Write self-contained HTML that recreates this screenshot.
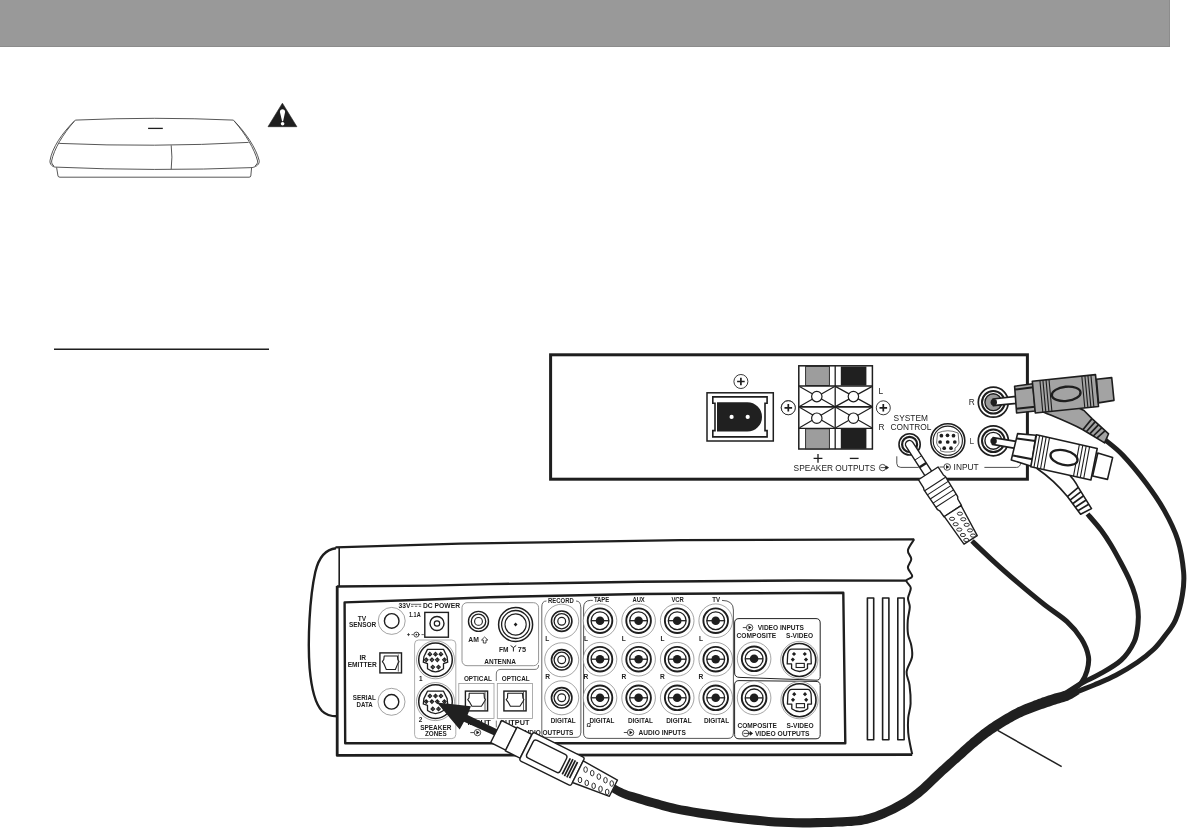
<!DOCTYPE html>
<html><head><meta charset="utf-8"><title>Connecting the system</title>
<style>
html,body{margin:0;padding:0;background:#fff;width:1187px;height:830px;overflow:hidden}
svg{display:block;font-family:"Liberation Sans",sans-serif;filter:grayscale(100%)}
</style></head><body>
<svg width="1187" height="830" viewBox="0 0 1187 830">
<!-- header bar -->
<rect x="0" y="0" width="1170" height="47" fill="#999"/>
<line x1="0" y1="46.5" x2="1170" y2="46.5" stroke="#8c8c8c" stroke-width="1"/>
<line x1="1169.5" y1="0" x2="1169.5" y2="47" stroke="#8c8c8c" stroke-width="1"/>

<!-- console -->
<g id="console" fill="none" stroke="#444" stroke-width="0.9">
  <path d="M75.3 120.1 Q155 116.5 233.4 120.1"/>
  <path d="M75.3 120.1 C62 133 52 148 50 160.6 C49.6 164 52 166.6 55.1 167.1"/>
  <path d="M74.3 121.3 C63 134 54 149 51.6 161 C51.5 163.5 52.5 165 54 165.8"/>
  <path d="M233.4 120.1 C246 133 256 148 259.2 160.6 C259.6 164 257 166.6 252.1 167.6"/>
  <path d="M234.4 121.3 C245.5 134 254.5 149 257.6 161 C257.7 163.5 256.5 165 255 165.8"/>
  <path d="M59.2 143.4 Q155 147.5 248.6 142.4"/>
  <path d="M55.1 167.1 Q155 171.5 252.1 167.6"/>
  <path d="M56.6 167.5 L58 176 Q58.3 177.2 60 177.2 L249 177.2 Q250.6 177.2 250.8 176 L251.6 167.6"/>
  <path d="M171.2 145.3 Q172.6 157 171.2 169.2"/>
  <line x1="148.1" y1="128.4" x2="162.8" y2="128.4" stroke="#201d1e" stroke-width="1.3"/>
</g>

<!-- warning triangle -->
<g id="warn">
  <path d="M282.4 103.2 L296.9 126.7 L268 126.7 Z" fill="#201d1e" stroke="#201d1e" stroke-width="0.6" stroke-linejoin="round"/>
  <path d="M279.9 112 C279.7 108.3 285.3 108.3 285.1 112 L283.1 121.3 L282.1 121.3 Z" fill="#fff"/>
  <circle cx="282.6" cy="123.8" r="1.8" fill="#fff"/>
</g>

<!-- underline -->
<line x1="54" y1="349.3" x2="269" y2="349.3" stroke="#201d1e" stroke-width="1.6"/>

<!-- bass module panel -->
<rect x="550.6" y="354.8" width="476.8" height="124.4" fill="none" stroke="#201d1e" stroke-width="3"/>
<defs>
  <g id="pluscirc">
    <circle r="7" fill="#fff" stroke="#222" stroke-width="0.9"/>
    <path d="M-3.8 0 H3.8 M0 -3.8 V3.8" stroke="#201d1e" stroke-width="1.7"/>
  </g>
</defs>
<!-- power connector -->
<g id="power">
  <rect x="707" y="392.8" width="66.3" height="48.2" fill="#fff" stroke="#201d1e" stroke-width="1.5"/>
  <path d="M712.8 396.9 H767.1 V403.2 H765 V430.6 H767.1 V436.9 H712.8 V430.6 H715 V403.2 H712.8 Z" fill="#fff" stroke="#201d1e" stroke-width="1.6"/>
  <path d="M717 402.2 H747.3 A14.7 14.7 0 0 1 747.3 431.6 H717 Z" fill="#231f20"/>
  <circle cx="731.6" cy="416.9" r="2.1" fill="#fff"/>
  <circle cx="747.7" cy="416.9" r="2.1" fill="#fff"/>
  <use href="#pluscirc" x="740.9" y="381.5"/>
  <use href="#pluscirc" x="788.2" y="407.6"/>
</g>
<!-- speaker terminals -->
<g id="spk">
  <rect x="798.8" y="365.8" width="73.6" height="83.2" fill="#fff" stroke="#201d1e" stroke-width="1.5"/>
  <!-- top tabs -->
  <rect x="805.6" y="366.5" width="23.8" height="19" fill="#9d9d9d" stroke="#222" stroke-width="0.9"/>
  <rect x="840.8" y="366.5" width="25.6" height="19" fill="#231f20"/>
  <rect x="805.6" y="428.8" width="23.8" height="20" fill="#9d9d9d" stroke="#222" stroke-width="0.9"/>
  <rect x="840.8" y="428.8" width="25.6" height="20" fill="#231f20"/>
  <line x1="835.2" y1="365.8" x2="835.2" y2="449" stroke="#201d1e" stroke-width="1.3"/>
  <line x1="798.8" y1="386" x2="872.4" y2="386" stroke="#201d1e" stroke-width="1.4"/>
  <line x1="798.8" y1="428.4" x2="872.4" y2="428.4" stroke="#201d1e" stroke-width="1.4"/>
  <line x1="798.8" y1="406.8" x2="872.4" y2="406.8" stroke="#201d1e" stroke-width="1.8"/>
  <g stroke="#201d1e" stroke-width="1.2" fill="#fff">
    <path d="M799.5 386.6 L834.6 406.4 M834.6 386.6 L799.5 406.4 M799.5 407.2 L834.6 427.8 M834.6 407.2 L799.5 427.8"/>
    <path d="M835.8 386.6 L871.8 406.4 M871.8 386.6 L835.8 406.4 M835.8 407.2 L871.8 427.8 M871.8 407.2 L835.8 427.8"/>
    <circle cx="816.8" cy="396.6" r="5.2"/>
    <circle cx="853.4" cy="396.6" r="5.2"/>
    <circle cx="816.8" cy="418.2" r="5.2"/>
    <circle cx="853.4" cy="418.2" r="5.2"/>
  </g>
  <use href="#pluscirc" x="788.3" y="407.8"/>
  <use href="#pluscirc" x="883.3" y="407.8"/>
  <text x="878.6" y="393.5" font-size="8.3" fill="#222">L</text>
  <text x="878.6" y="430" font-size="8.3" fill="#222">R</text>
  <path d="M813.6 458.4 H822.4 M818 454 V462.8" stroke="#201d1e" stroke-width="1.3"/>
  <path d="M849.8 458.4 H858.6" stroke="#201d1e" stroke-width="1.3"/>
  <text x="793.6" y="471" font-size="8.35" fill="#222">SPEAKER OUTPUTS</text>
  <!-- output arrow icon -->
  <circle cx="882.6" cy="467.6" r="3.2" fill="#fff" stroke="#222" stroke-width="0.8"/>
  <path d="M880.5 467.6 H888 M886 466 L888.5 467.6 L886 469.2 Z" stroke="#222" stroke-width="0.8" fill="#222"/>
</g>
<!-- system control / input -->
<g id="sysctl">
  <text x="893.6" y="421.4" font-size="8.35" fill="#222">SYSTEM</text>
  <text x="890.6" y="430" font-size="8.35" fill="#222">CONTROL</text>
  <path d="M896.8 456.3 V463.5 Q896.8 467.4 900.8 467.4 H918.7" fill="none" stroke="#222" stroke-width="0.8"/>
  <circle cx="909.6" cy="444.4" r="10.6" fill="#fff" stroke="#201d1e" stroke-width="1.6"/>
  <circle cx="909.6" cy="444.4" r="7.5" fill="#fff" stroke="#201d1e" stroke-width="2.2"/>
  <!-- mini din -->
  <circle cx="947.8" cy="440.7" r="17" fill="#fff" stroke="#201d1e" stroke-width="1.6"/>
  <circle cx="947.8" cy="440.7" r="14.6" fill="#fff" stroke="#201d1e" stroke-width="1.1"/>
  <path d="M937.5 433 Q947.8 428.5 958.1 433 L959 443 Q957.5 447 955 448 L955 451 Q950 452.5 945 452 L940.6 451 L940.6 448 Q937.5 447 936.6 443 Z" fill="#fff" stroke="#333" stroke-width="0.7"/>
  <g fill="#201d1e">
    <circle cx="941.4" cy="435.7" r="1.85"/><circle cx="947.5" cy="435.3" r="1.85"/><circle cx="953.5" cy="435.7" r="1.85"/>
    <circle cx="940.1" cy="442" r="1.85"/><circle cx="947.7" cy="442" r="1.85"/><circle cx="954.8" cy="442" r="1.85"/>
    <circle cx="944.2" cy="448.2" r="1.85"/><circle cx="951" cy="448.2" r="1.85"/>
  </g>
  <!-- INPUT -->
  <circle cx="947.2" cy="467" r="3.3" fill="#fff" stroke="#222" stroke-width="0.8"/>
  <path d="M939.6 467 H943.9" stroke="#222" stroke-width="0.8"/><path d="M946 464.9 L949.5 467 L946 469.1 Z" fill="#222"/>
  <text x="953.6" y="470" font-size="8.35" fill="#222">INPUT</text>
  <path d="M984.4 467.4 H1016.5 Q1020 467.4 1021 462.5" fill="none" stroke="#222" stroke-width="0.8"/>
  <text x="968.8" y="405.2" font-size="8.3" fill="#222">R</text>
  <text x="969.4" y="443.8" font-size="8.3" fill="#444">L</text>
  <!-- RCA jacks -->
  <circle cx="993.3" cy="402.2" r="15" fill="#fff" stroke="#201d1e" stroke-width="1.7"/>
  <circle cx="993.3" cy="402.2" r="11.3" fill="#fff" stroke="#201d1e" stroke-width="2"/>
  <circle cx="993.3" cy="402.2" r="8.4" fill="#9a9a9a" stroke="#201d1e" stroke-width="1.4"/>
  <circle cx="993.3" cy="440.8" r="15" fill="#fff" stroke="#201d1e" stroke-width="1.7"/>
  <circle cx="993.3" cy="440.8" r="11.3" fill="#fff" stroke="#201d1e" stroke-width="2"/>
  <circle cx="993.3" cy="440.8" r="8.4" fill="#fff" stroke="#201d1e" stroke-width="1.4"/>
</g>

<!-- receiver -->
<g id="recv" fill="none" stroke="#201d1e" stroke-linejoin="round">
  <path d="M336 548.2 C326 549.2 319 556 315.3 572 C309.5 598 307.6 640 309.6 668 C311.5 690 315.5 704 322 711 C326 715 331 716.3 337 716.3" stroke-width="2.4"/>
  <path d="M335.5 547.4 L460 543.6 L560 542.2 L680 540.2 L914.2 539.3" stroke-width="2.2"/>
  <path d="M339.2 548 L339.2 586.5" stroke-width="1.6"/>
  <path d="M336.8 586.5 L430 585.6 L490 584.1 L580 582.8 L640 581.8 L800 580.5 L906.4 580.6" stroke-width="2.4"/>
  <path d="M337.2 586 L337.2 755.4 L912.2 754.6" stroke-width="2.8"/>
  <path d="M914.2 539.3 C913.2 541.1 908.4 547.0 907.9 550.3 C907.4 553.6 911.3 556.1 911.3 559.0 C911.3 561.9 907.8 564.7 907.9 567.6 C908.0 570.5 912.5 574.1 912.2 576.3 C912.0 578.5 906.6 578.6 906.4 580.6 C906.2 582.6 910.5 585.1 910.8 588.0 C911.1 590.9 908.2 594.8 908.0 598.0 C907.8 601.2 909.8 603.3 909.8 607.0 C909.8 610.7 908.1 615.5 907.8 620.0 C907.5 624.5 907.4 630.0 908.0 634.2 C908.6 638.4 910.5 641.1 911.2 645.0 C911.9 648.9 912.8 652.8 912.0 657.3 C911.2 661.8 907.0 667.2 906.6 671.8 C906.2 676.4 908.8 679.7 909.5 685.0 C910.2 690.3 910.8 698.1 910.6 703.6 C910.4 709.1 908.6 713.2 908.2 718.0 C907.8 722.8 907.9 728.2 908.2 732.5 C908.5 736.8 909.3 740.4 910.0 744.0 C910.7 747.6 911.8 752.5 912.2 754.2" stroke-width="2"/>
  <path d="M344.6 602.4 L430 599.5 L490 597.2 L580 595.2 L640 594 L843.3 592.7 L845.3 743.2 L345.2 743.2 Z" stroke-width="2.4"/>
  <rect x="867.4" y="598" width="6.3" height="141.8" stroke-width="1.6"/>
  <rect x="882.6" y="598" width="6.3" height="141.8" stroke-width="1.6"/>
  <rect x="897.8" y="598" width="6.3" height="141.8" stroke-width="1.6"/>
</g>
<defs>
  <g id="jA">
    <circle r="16.8" fill="#fff" stroke="#666" stroke-width="0.6"/>
    <circle r="12.3" fill="none" stroke="#201d1e" stroke-width="1.9"/>
    <circle r="8.9" fill="none" stroke="#201d1e" stroke-width="1.3"/>
    <path d="M-8.9 0 H8.9" stroke="#201d1e" stroke-width="1.3"/>
    <circle r="4.3" fill="#201d1e"/>
  </g>
  <g id="jR">
    <circle r="17" fill="#fff" stroke="#666" stroke-width="0.6"/>
    <circle r="10.2" fill="none" stroke="#201d1e" stroke-width="1.6"/>
    <circle r="7.6" fill="none" stroke="#201d1e" stroke-width="1.3"/>
    <circle r="3.9" fill="none" stroke="#201d1e" stroke-width="1.2"/>
  </g>
  <g id="jS">
    <circle r="13.5" fill="#fff" stroke="#666" stroke-width="0.6"/>
    <circle r="7.3" fill="none" stroke="#201d1e" stroke-width="1.4"/>
  </g>
  <g id="din">
    <circle r="19" fill="#fff" stroke="#666" stroke-width="0.6"/>
    <circle r="16.8" fill="none" stroke="#201d1e" stroke-width="1.5"/>
    <path d="M-8 -10.4 H8 L11.6 -3 L12.2 2.4 L8 3.8 L8 9 Q0 15 -8 9 L-8 3.8 L-12.2 2.4 L-11.6 -3 Z" fill="#fff" stroke="#201d1e" stroke-width="1.3" stroke-linejoin="round"/>
    <g fill="#fff" stroke="#201d1e" stroke-width="1.1">
      <path d="M-5.6 -7.4 l1.8 1.8 l-1.8 1.8 l-1.8 -1.8 Z M0 -7.4 l1.8 1.8 l-1.8 1.8 l-1.8 -1.8 Z M5.4 -7.4 l1.8 1.8 l-1.8 1.8 l-1.8 -1.8 Z"/>
      <path d="M-9.3 -1.8 l1.8 1.8 l-1.8 1.8 l-1.8 -1.8 Z M-3.6 -1.8 l1.8 1.8 l-1.8 1.8 l-1.8 -1.8 Z M1.8 -1.8 l1.8 1.8 l-1.8 1.8 l-1.8 -1.8 Z M8.9 -1.8 l1.8 1.8 l-1.8 1.8 l-1.8 -1.8 Z"/>
      <path d="M-2.7 5.5 l1.8 1.8 l-1.8 1.8 l-1.8 -1.8 Z M3 5.5 l1.8 1.8 l-1.8 1.8 l-1.8 -1.8 Z"/>
    </g>
    <g fill="#201d1e">
      <circle cx="-5.6" cy="-5.6" r="0.9"/><circle cx="0" cy="-5.6" r="0.9"/><circle cx="5.4" cy="-5.6" r="0.9"/>
      <circle cx="-9.3" cy="0" r="0.9"/><circle cx="-3.6" cy="0" r="0.9"/><circle cx="1.8" cy="0" r="0.9"/><circle cx="8.9" cy="0" r="0.9"/>
      <circle cx="-2.7" cy="7.3" r="0.9"/><circle cx="3" cy="7.3" r="0.9"/>
    </g>
  </g>
  <g id="opt">
    <rect x="-17.6" y="-17.5" width="35.2" height="35" fill="#fff" stroke="#999" stroke-width="0.8"/>
    <rect x="-11" y="-9.9" width="22.2" height="19.8" fill="#fff" stroke="#201d1e" stroke-width="1.4"/>
    <path d="M8.6 -9.5 V9.5" stroke="#333" stroke-width="0.8"/>
    <path d="M-7.2 -7.8 H7.6 L8 -3 L9 -1.4 L8.2 0.2 L5 5.3 H-4.5 L-7 0.8 L-8.7 -1.4 L-7.4 -3 Z" fill="#fff" stroke="#201d1e" stroke-width="1.1" stroke-linejoin="round"/>
  </g>
  <g id="svid">
    <circle r="18.6" fill="#fff" stroke="#666" stroke-width="0.6"/>
    <circle r="16.5" fill="none" stroke="#201d1e" stroke-width="1.6"/>
    <path d="M-7.7 -10.8 H8.2 Q10.8 -10.8 11.6 -6 L12 3.9 H8.2 V8.5 Q0.3 14.5 -7.7 8.5 V3.9 H-12.1 L-11.6 -6 Q-10.6 -10.8 -7.7 -10.8 Z" fill="#fff" stroke="#201d1e" stroke-width="1.3" stroke-linejoin="round"/>
    <g fill="#201d1e">
      <path d="M-5.3 -8.1 l2.1 2.1 l-2.1 2.1 l-2.1 -2.1 Z M5.5 -8.1 l2.1 2.1 l-2.1 2.1 l-2.1 -2.1 Z M-6.5 -2.5 l2.1 2.1 l-2.1 2.1 l-2.1 -2.1 Z M6.7 -2.5 l2.1 2.1 l-2.1 2.1 l-2.1 -2.1 Z"/>
    </g>
    <rect x="-3.2" y="3.4" width="8.2" height="4.1" fill="#fff" stroke="#201d1e" stroke-width="1.1"/>
  </g>
</defs>
<g id="recvparts" font-weight="bold" fill="#201d1e">
  <!-- group boxes -->
  <g fill="none" stroke-width="0.8">
    <rect x="414.6" y="640" width="41.2" height="98.6" rx="4" stroke="#9a9a9a"/>
    <rect x="462" y="602.7" width="76.6" height="63" rx="5" stroke="#777"/>
    <path d="M496.3 681 V674 Q496.3 669.4 501 669.4 H535 Q538.6 669.4 538.6 665" stroke="#555"/>
    <path d="M496.3 720.6 V727.3" stroke="#555"/>
    <path d="M541.8 607 Q541.8 601 546.5 601 M576 601 Q580.7 601 580.7 607 V733 Q580.7 737.4 576 737.4 H546 Q541.8 737.4 541.8 733 V607" stroke="#555" stroke-width="0.9"/>
    <path d="M580.7 607 V733" stroke="#999" stroke-width="1.5"/>
    <path d="M583.6 608 Q583.6 600.4 590.5 600.4 H592.8 M722 600.4 Q733.4 600.4 733.4 610 V733 Q733.4 738.4 728 738.4 H589 Q583.6 738.4 583.6 733 V608" stroke="#444" stroke-width="0.9"/>
  </g>
  <g fill="none" stroke="#222" stroke-width="1">
    <path d="M739 618.6 H816 Q820.2 618.6 820.2 623 V676.5 Q820.2 680.4 816 680.2 L740 677.4 Q734.6 677.4 734.6 673 V623 Q734.6 618.6 739 618.6 Z"/>
    <path d="M739 680.6 L816 681.4 Q820.2 681.4 820.2 685.5 V734.5 Q820.2 738.8 816 738.8 H739 Q734.6 738.8 734.6 734.5 V685 Q734.6 680.6 739 680.6"/>
  </g>
  <!-- left column -->
  <use href="#jS" x="391.7" y="620.9"/>
  <use href="#jS" x="391.5" y="701.8"/>
  <rect x="379.9" y="652.9" width="21.6" height="20" fill="#fff" stroke="#201d1e" stroke-width="1.4"/>
  <path d="M384.2 656 H397.4 L397.8 659.5 L399 661.6 L397.8 663.6 L395.4 669.5 H386.3 L383.9 663.8 L382.4 661.6 L383.8 659.5 Z" fill="#fff" stroke="#201d1e" stroke-width="1.1" stroke-linejoin="round"/>
  <path d="M398.3 654.5 V671.6" stroke="#333" stroke-width="0.8"/>
  <g font-size="6.6">
    <text x="362" y="620.6" text-anchor="middle">TV</text>
    <text x="362.6" y="627" text-anchor="middle" textLength="27.4" lengthAdjust="spacingAndGlyphs">SENSOR</text>
    <text x="362.8" y="660.4" text-anchor="middle">IR</text>
    <text x="362.2" y="666.8" text-anchor="middle" textLength="29" lengthAdjust="spacingAndGlyphs">EMITTER</text>
    <text x="364.3" y="700" text-anchor="middle" textLength="23" lengthAdjust="spacingAndGlyphs">SERIAL</text>
    <text x="364.7" y="707" text-anchor="middle" textLength="16.2" lengthAdjust="spacingAndGlyphs">DATA</text>
    <!-- DC power -->
    <text x="398.5" y="608.4" textLength="12" lengthAdjust="spacingAndGlyphs">33V</text>
    <text x="423" y="608.4" textLength="37" lengthAdjust="spacingAndGlyphs">DC POWER</text>
    <text x="409" y="617.2" textLength="11.6" lengthAdjust="spacingAndGlyphs">1.1A</text>
    <text x="419" y="680.8" font-size="6.4">1</text>
    <text x="418.8" y="722" font-size="6.4">2</text>
    <text x="435.8" y="730" text-anchor="middle" textLength="31.3" lengthAdjust="spacingAndGlyphs">SPEAKER</text>
    <text x="435.8" y="736.2" text-anchor="middle" textLength="21.8" lengthAdjust="spacingAndGlyphs">ZONES</text>
  </g>
  <path d="M411 604.3 H421.2 M411 606.3 H413.4 M414.9 606.3 H417.3 M418.8 606.3 H421.2" stroke="#201d1e" stroke-width="0.7"/>
  <!-- DC jack -->
  <rect x="424.8" y="612.4" width="23.6" height="24.8" fill="#fff" stroke="#201d1e" stroke-width="1.4"/>
  <circle cx="437" cy="623.5" r="7" fill="none" stroke="#201d1e" stroke-width="1.4"/>
  <circle cx="437" cy="623.5" r="2.7" fill="none" stroke="#201d1e" stroke-width="1.2"/>
  <path d="M407 634.6 H410 M408.5 633.1 V636.1 M411.5 634.6 H413.5 M418 634.6 H420 M421.5 634.6 H423.8" stroke="#201d1e" stroke-width="0.7"/>
  <circle cx="416.4" cy="634.6" r="2.5" fill="none" stroke="#201d1e" stroke-width="0.8"/>
  <circle cx="416.4" cy="634.6" r="0.9" fill="#201d1e"/>
  <!-- speaker zones -->
  <use href="#din" x="435.5" y="659.8"/>
  <use href="#din" x="435.5" y="701.6"/>
  <!-- antenna -->
  <circle cx="478.5" cy="621.4" r="10" fill="none" stroke="#201d1e" stroke-width="1.4"/>
  <circle cx="478.5" cy="621.4" r="7.2" fill="none" stroke="#201d1e" stroke-width="1.3"/>
  <circle cx="478.5" cy="621.4" r="3.9" fill="none" stroke="#201d1e" stroke-width="1.1"/>
  <circle cx="515.6" cy="624.5" r="17" fill="none" stroke="#201d1e" stroke-width="1.5"/>
  <circle cx="515.6" cy="624.5" r="14" fill="none" stroke="#201d1e" stroke-width="1.3"/>
  <circle cx="515.6" cy="624.5" r="10.6" fill="none" stroke="#201d1e" stroke-width="1.1"/>
  <path d="M515.6 622.6 L517.5 624.5 L515.6 626.4 L513.7 624.5 Z" fill="#201d1e"/>
  <g font-size="6.6">
    <text x="468.3" y="642.3" textLength="10.6" lengthAdjust="spacingAndGlyphs">AM</text>
    <text x="499" y="651.5" textLength="9.5" lengthAdjust="spacingAndGlyphs">FM</text>
    <text x="517.8" y="651.5" textLength="8.2" lengthAdjust="spacingAndGlyphs">75</text>
    <text x="484.3" y="664.2" textLength="31.7" lengthAdjust="spacingAndGlyphs">ANTENNA</text>
  </g>
  <path d="M484.6 637 L481.5 640 H483.3 V643 H486 V640 H487.8 Z" fill="#fff" stroke="#201d1e" stroke-width="0.8" stroke-linejoin="round"/>
  <path d="M510.6 645.5 L513.4 647.6 L516.2 645.5 M513.4 647.6 V651.5" fill="none" stroke="#201d1e" stroke-width="1"/>
  <!-- optical -->
  <use href="#opt" x="476.4" y="701"/>
  <use href="#opt" x="514.9" y="701"/>
  <g font-size="6.6">
    <text x="463.9" y="680.9" textLength="28" lengthAdjust="spacingAndGlyphs">OPTICAL</text>
    <text x="501.8" y="680.9" textLength="27.8" lengthAdjust="spacingAndGlyphs">OPTICAL</text>
    <text x="467.4" y="725.4" textLength="23.5" lengthAdjust="spacingAndGlyphs">INPUT</text>
    <text x="499.4" y="725.4" textLength="30" lengthAdjust="spacingAndGlyphs">OUTPUT</text>
  </g>
  <circle cx="477.5" cy="732.6" r="3.2" fill="#fff" stroke="#201d1e" stroke-width="0.8"/>
  <path d="M470.3 732.6 H474.3" stroke="#201d1e" stroke-width="0.8"/><path d="M476.4 730.6 L479.6 732.6 L476.4 734.6 Z" fill="#201d1e"/>
  <!-- record -->
  <use href="#jR" x="561.7" y="621.2"/>
  <use href="#jR" x="561.7" y="659.8"/>
  <use href="#jR" x="561.7" y="697.8"/>
  <g font-size="6.6">
    <text x="548" y="602.8" textLength="25.8" lengthAdjust="spacingAndGlyphs">RECORD</text>
    <text x="545.2" y="641">L</text>
    <text x="545.2" y="678.6">R</text>
    <text x="550.7" y="723" textLength="25" lengthAdjust="spacingAndGlyphs">DIGITAL</text>
    <text x="520" y="735.2" textLength="53.4" lengthAdjust="spacingAndGlyphs">AUDIO OUTPUTS</text>
  </g>
  <!-- audio inputs -->
  <use href="#jA" x="600" y="620.7"/>
  <use href="#jA" x="638.6" y="620.7"/>
  <use href="#jA" x="677.2" y="620.7"/>
  <use href="#jA" x="715.7" y="620.7"/>
  <use href="#jA" x="600" y="659.2"/>
  <use href="#jA" x="638.6" y="659.2"/>
  <use href="#jA" x="677.2" y="659.2"/>
  <use href="#jA" x="715.7" y="659.2"/>
  <use href="#jA" x="600" y="697.8"/>
  <use href="#jA" x="638.6" y="697.8"/>
  <use href="#jA" x="677.2" y="697.8"/>
  <use href="#jA" x="715.7" y="697.8"/>
  <g font-size="6.6">
    <text x="593.9" y="602.4" textLength="15.4" lengthAdjust="spacingAndGlyphs">TAPE</text>
    <text x="632.4" y="602.4" textLength="12.4" lengthAdjust="spacingAndGlyphs">AUX</text>
    <text x="671.4" y="602.4" textLength="12.5" lengthAdjust="spacingAndGlyphs">VCR</text>
    <text x="712.2" y="602.4" textLength="7.8" lengthAdjust="spacingAndGlyphs">TV</text>
    <text x="583.9" y="641">L</text><text x="621.8" y="641">L</text><text x="660.4" y="641">L</text><text x="698.9" y="641">L</text>
    <text x="583.6" y="678.6">R</text><text x="621.5" y="678.6">R</text><text x="660.1" y="678.6">R</text><text x="698.6" y="678.6">R</text>
    <text x="589.5" y="722.9" textLength="25" lengthAdjust="spacingAndGlyphs">DIGITAL</text>
    <text x="628" y="722.9" textLength="25" lengthAdjust="spacingAndGlyphs">DIGITAL</text>
    <text x="666.2" y="722.9" textLength="25.4" lengthAdjust="spacingAndGlyphs">DIGITAL</text>
    <text x="703.9" y="722.9" textLength="25.3" lengthAdjust="spacingAndGlyphs">DIGITAL</text>
    <text x="638.6" y="735.4" textLength="47.2" lengthAdjust="spacingAndGlyphs">AUDIO INPUTS</text>
    <text x="586.6" y="727" font-size="5.6">Ω</text>
  </g>
  <circle cx="630.6" cy="732.5" r="3.2" fill="#fff" stroke="#201d1e" stroke-width="0.8"/>
  <path d="M623.8 732.5 H627.4" stroke="#201d1e" stroke-width="0.8"/><path d="M629.5 730.5 L632.7 732.5 L629.5 734.5 Z" fill="#201d1e"/>
  <!-- video -->
  <use href="#jA" x="754.1" y="658.8"/>
  <use href="#jA" x="754.1" y="697.9"/>
  <use href="#svid" x="799.3" y="660"/>
  <use href="#svid" x="799.5" y="700.2"/>
  <g font-size="6.6">
    <text x="757.7" y="630" textLength="46.3" lengthAdjust="spacingAndGlyphs">VIDEO INPUTS</text>
    <text x="736.6" y="638.3" textLength="39.6" lengthAdjust="spacingAndGlyphs">COMPOSITE</text>
    <text x="786" y="638.3" textLength="27" lengthAdjust="spacingAndGlyphs">S-VIDEO</text>
    <text x="737.5" y="727.8" textLength="39.3" lengthAdjust="spacingAndGlyphs">COMPOSITE</text>
    <text x="786.5" y="727.8" textLength="27.1" lengthAdjust="spacingAndGlyphs">S-VIDEO</text>
    <text x="754.9" y="735.8" textLength="54.6" lengthAdjust="spacingAndGlyphs">VIDEO OUTPUTS</text>
  </g>
  <circle cx="749.6" cy="627.6" r="3.2" fill="#fff" stroke="#201d1e" stroke-width="0.8"/>
  <path d="M742.8 627.6 H746.4" stroke="#201d1e" stroke-width="0.8"/><path d="M748.5 625.6 L751.7 627.6 L748.5 629.6 Z" fill="#201d1e"/>
  <circle cx="745.6" cy="733.4" r="3.2" fill="#fff" stroke="#201d1e" stroke-width="0.8"/>
  <path d="M743.6 733.4 H752 M750 731.6 L752.6 733.4 L750 735.2 Z" stroke="#201d1e" stroke-width="0.8" fill="#201d1e"/>
</g>
<!-- cables -->
<g id="cables" fill="none" stroke="#231f20" stroke-linecap="butt">
  <path d="M611.6 792.2 L612.5 792.6 L613.6 793.2 L615.0 794.0 L616.6 794.9 L618.5 795.9 L620.6 796.9 L623.0 797.9 L625.5 798.9 L628.4 800.0 L631.5 801.0 L634.8 802.1 L638.4 803.2 L642.0 804.3 L645.7 805.4 L649.3 806.4 L652.8 807.3 L655.9 808.2 L658.8 809.1 L661.7 809.9 L664.6 810.7 L667.7 811.6 L671.3 812.4 L675.3 813.3 L680.1 814.2 L685.6 815.2 L691.7 816.3 L698.4 817.4 L705.5 818.5 L712.8 819.5 L720.1 820.6 L727.3 821.5 L734.3 822.4 L741.0 823.2 L747.8 824.0 L754.6 824.7 L761.3 825.3 L768.1 825.9 L774.9 826.4 L781.7 826.8 L788.5 827.1 L795.5 827.3 L802.8 827.4 L810.1 827.4 L817.4 827.3 L824.5 827.1 L831.2 826.9 L837.4 826.6 L842.8 826.4 L847.5 826.1 L851.5 825.9 L855.1 825.6 L858.3 825.3 L861.4 824.9 L864.4 824.3 L867.5 823.7 L870.8 822.8 L874.4 821.8 L878.0 820.5 L881.6 819.2 L885.2 817.7 L888.8 816.1 L892.2 814.5 L895.5 812.9 L898.7 811.3 L901.8 809.6 L904.7 808.0 L907.5 806.3 L910.2 804.5 L912.9 802.7 L915.5 800.8 L918.2 798.8 L921.0 796.7 L923.8 794.3 L926.8 791.7 L929.7 789.0 L932.6 786.3 L935.4 783.6 L938.1 780.9 L940.7 778.4 L943.1 776.2 L945.4 774.1 L947.5 772.2 L949.5 770.4 L951.4 768.7 L953.3 767.0 L955.2 765.3 L957.1 763.6 L959.1 761.9 L961.1 760.0 L963.2 758.2 L965.2 756.4 L967.2 754.6 L969.2 752.8 L971.2 751.0 L973.1 749.3 L975.1 747.6 L977.1 746.0 L979.1 744.3 L981.1 742.7 L983.0 741.1 L985.0 739.6 L987.0 738.1 L988.9 736.6 L990.9 735.2 L992.8 733.8 L994.8 732.5 L996.7 731.2 L998.7 729.9 L1000.7 728.7 L1002.6 727.5 L1004.6 726.3 L1006.6 725.1 L1008.6 724.0 L1010.5 722.8 L1012.5 721.7 L1014.5 720.6 L1016.4 719.6 L1018.4 718.5 L1020.3 717.6 L1022.2 716.7 L1024.1 715.8 L1026.0 715.0 L1027.9 714.2 L1029.9 713.5 L1031.9 712.7 L1033.8 712.0 L1035.8 711.3 L1037.8 710.6 L1039.8 709.8 L1041.8 709.1 L1043.8 708.4 L1045.8 707.8 L1047.7 707.1 L1049.7 706.4 L1051.7 705.8 L1053.6 705.1 L1055.6 704.5 L1057.6 703.8 L1059.7 703.2 L1061.8 702.6 L1063.9 702.0 L1065.9 701.3 L1067.9 700.7 L1069.6 699.8 L1071.3 699.0 L1072.8 698.2 L1074.3 697.3 L1075.6 696.5 L1076.8 695.8 L1077.9 695.1 L1078.7 694.6 L1079.4 694.2 L1076.6 687.8 L1075.8 688.0 L1074.8 688.3 L1073.6 688.7 L1072.4 689.1 L1071.0 689.5 L1069.5 689.9 L1068.0 690.2 L1066.4 690.6 L1064.7 690.8 L1062.9 691.3 L1061.0 691.9 L1058.9 692.4 L1056.8 693.0 L1054.6 693.6 L1052.5 694.2 L1050.4 694.9 L1048.3 695.5 L1046.3 696.2 L1044.3 696.9 L1042.2 697.6 L1040.2 698.4 L1038.2 699.1 L1036.2 699.9 L1034.2 700.6 L1032.2 701.4 L1030.2 702.2 L1028.1 702.9 L1026.1 703.7 L1024.1 704.6 L1022.0 705.4 L1019.9 706.4 L1017.8 707.3 L1015.7 708.4 L1013.6 709.4 L1011.6 710.6 L1009.5 711.7 L1007.5 712.9 L1005.5 714.1 L1003.4 715.3 L1001.4 716.5 L999.4 717.7 L997.4 719.0 L995.3 720.3 L993.3 721.6 L991.3 722.9 L989.2 724.3 L987.2 725.7 L985.1 727.2 L983.1 728.8 L981.0 730.3 L979.0 731.9 L977.0 733.6 L974.9 735.2 L972.9 736.9 L970.9 738.6 L968.9 740.4 L966.9 742.1 L964.8 743.9 L962.8 745.8 L960.8 747.6 L958.8 749.5 L956.8 751.3 L954.9 753.1 L952.9 754.9 L950.9 756.7 L949.1 758.4 L947.2 760.1 L945.3 761.8 L943.4 763.5 L941.3 765.4 L939.2 767.3 L936.9 769.4 L934.4 771.8 L931.7 774.3 L929.0 777.0 L926.2 779.7 L923.4 782.3 L920.6 784.9 L917.9 787.3 L915.2 789.5 L912.6 791.5 L910.1 793.4 L907.6 795.2 L905.1 796.9 L902.6 798.5 L900.0 800.1 L897.3 801.6 L894.5 803.1 L891.4 804.7 L888.3 806.3 L885.0 807.8 L881.6 809.3 L878.3 810.6 L874.9 811.9 L871.6 813.0 L868.4 814.0 L865.3 814.8 L862.6 815.4 L860.0 815.8 L857.3 816.2 L854.3 816.5 L850.9 816.8 L847.0 817.0 L842.4 817.2 L836.9 817.5 L830.8 817.8 L824.2 818.0 L817.2 818.1 L810.1 818.3 L802.8 818.3 L795.7 818.2 L788.9 818.1 L782.2 817.8 L775.5 817.4 L768.9 816.9 L762.2 816.3 L755.5 815.6 L748.8 814.9 L742.1 814.2 L735.3 813.4 L728.5 812.6 L721.3 811.6 L714.0 810.6 L706.8 809.5 L699.8 808.4 L693.2 807.4 L687.1 806.3 L681.7 805.4 L677.1 804.5 L673.3 803.6 L669.9 802.8 L667.0 802.1 L664.2 801.3 L661.4 800.4 L658.4 799.6 L655.2 798.7 L651.7 797.7 L648.2 796.7 L644.5 795.7 L640.9 794.6 L637.4 793.6 L634.1 792.6 L631.1 791.7 L628.5 790.9 L626.2 790.0 L624.1 789.2 L622.2 788.3 L620.5 787.5 L618.9 786.7 L617.6 786.0 L616.4 785.3 L615.4 784.8 Z" fill="#231f20" stroke="none"/>
  <path d="M972.0 541.0 C975.8 544.6 987.1 555.4 994.7 562.4 C1002.3 569.4 1009.6 575.7 1017.8 582.7 C1026.0 589.7 1035.7 597.8 1043.9 604.3 C1052.1 610.8 1060.7 615.9 1067.0 621.7 C1073.3 627.5 1077.9 633.2 1081.5 639.0 C1085.1 644.8 1087.5 651.1 1088.4 656.4 C1089.3 661.7 1088.2 666.6 1087.0 670.9 C1085.8 675.2 1083.9 679.2 1081.5 682.4 C1079.1 685.6 1076.0 687.6 1072.8 690.0 C1069.5 692.4 1063.8 695.8 1062.0 697.0" stroke-width="5"/>
  <path d="M1087.5 514.0 C1089.8 516.7 1097.1 524.8 1101.0 530.0 C1104.9 535.2 1107.7 539.5 1111.0 545.0 C1114.3 550.5 1117.9 557.2 1121.0 563.0 C1124.1 568.8 1127.2 574.7 1129.5 580.0 C1131.8 585.3 1133.6 590.0 1135.0 595.0 C1136.4 600.0 1137.5 605.2 1138.0 610.0 C1138.5 614.8 1138.6 618.7 1138.0 624.0 C1137.4 629.3 1137.0 635.7 1134.2 641.7 C1131.4 647.7 1127.0 654.7 1121.2 660.1 C1115.4 665.5 1105.7 670.6 1099.5 674.2 C1093.3 677.8 1088.9 679.3 1084.3 681.8 C1079.7 684.3 1076.0 686.5 1072.0 689.0 C1068.0 691.5 1062.0 695.7 1060.0 697.0" stroke-width="5"/>
  <path d="M1104.8 439.6 C1107.8 442.2 1116.1 448.0 1122.9 455.2 C1129.7 462.4 1138.9 473.5 1145.8 482.7 C1152.7 491.9 1158.8 500.6 1164.1 510.1 C1169.4 519.6 1174.5 529.6 1177.8 539.9 C1181.0 550.2 1182.8 562.8 1183.6 571.9 C1184.4 581.0 1183.8 586.8 1182.4 594.8 C1181.1 602.8 1178.5 613.1 1175.5 620.0 C1172.5 626.9 1168.2 631.4 1164.6 636.3 C1161.0 641.2 1158.2 645.0 1153.7 649.3 C1149.2 653.6 1143.8 658.0 1137.5 662.3 C1131.2 666.6 1123.0 671.5 1115.8 675.3 C1108.6 679.1 1100.4 682.3 1094.1 685.0 C1087.8 687.7 1083.3 689.2 1078.0 691.5 C1072.7 693.8 1064.7 697.8 1062.0 699.0" stroke-width="5"/>
</g>
<!-- callout line -->
<line x1="997.6" y1="730.4" x2="1061.7" y2="766.6" stroke="#231f20" stroke-width="1.5"/>

<!-- big arrow -->
<path d="M436.9 702.6 L470.9 706.3 L467.6 714.9 L497.5 729.5 L494.4 735.5 L464 721.8 L459.7 729.4 Z" fill="#231f20"/>

<!-- speaker zones plug -->
<g transform="translate(496.2 731.5) rotate(26.5)" stroke="#201d1e" stroke-width="1.4" fill="#fff" stroke-linejoin="round">
  <rect x="0" y="-12.2" width="16.8" height="24.6"/>
  <rect x="16.8" y="-13.2" width="16.4" height="26.4"/>
  <rect x="33.4" y="-16" width="57.6" height="31.5" rx="2.2"/>
  <rect x="37.6" y="-10.2" width="37.4" height="19.8" rx="3"/>
  <path d="M78.3 -9 V9 M81 -9.5 V9.5 M83.7 -9.5 V9.5 M86.4 -9 V9" stroke-width="1.7"/>
  <path d="M91 -12.5 L130.2 -10.7 L130.2 7.5 L91 11.6 Z"/>
  <g stroke-width="0.9">
    <ellipse cx="97" cy="-5.8" rx="1.8" ry="2.8" transform="rotate(-26.5 97 -5.8)"/>
    <ellipse cx="104.5" cy="-5.6" rx="1.8" ry="2.8" transform="rotate(-26.5 104.5 -5.6)"/>
    <ellipse cx="112" cy="-5.4" rx="1.8" ry="2.8" transform="rotate(-26.5 112 -5.4)"/>
    <ellipse cx="119.5" cy="-5.2" rx="1.8" ry="2.8" transform="rotate(-26.5 119.5 -5.2)"/>
    <ellipse cx="126.6" cy="-5" rx="1.8" ry="2.8" transform="rotate(-26.5 126.6 -5)"/>
    <ellipse cx="96.6" cy="6" rx="1.8" ry="2.8" transform="rotate(-26.5 96.6 6)"/>
    <ellipse cx="104" cy="5.6" rx="1.8" ry="2.8" transform="rotate(-26.5 104 5.6)"/>
    <ellipse cx="111.5" cy="5.2" rx="1.8" ry="2.8" transform="rotate(-26.5 111.5 5.2)"/>
    <ellipse cx="119" cy="4.9" rx="1.8" ry="2.8" transform="rotate(-26.5 119 4.9)"/>
    <ellipse cx="126.3" cy="4.6" rx="1.8" ry="2.8" transform="rotate(-26.5 126.3 4.6)"/>
  </g>
</g>

<!-- system control plug -->
<g transform="translate(909.5 444.5) rotate(57)" stroke="#201d1e" stroke-width="1.4" fill="#fff" stroke-linejoin="round">
  <path d="M35 -4 H0 A4 4 0 0 0 0 4 H35 Z"/>
  <path d="M16 -4 V4" stroke-width="0.9"/>
  <path d="M24.6 -4 V4" stroke-width="2.4"/>
  <path d="M34.4 -11.7 L44 -11.8 L46 -12.6 L70 -12 L72 -10.8 L79.4 -10.4 L79.4 10.4 L72 10.8 L70 12 L46 12.6 L44 11.8 L34.4 11.7 Z"/>
  <path d="M47 -12.4 V12.4 M52 -12.4 V12.4 M57 -12.3 V12.3 M62 -12.2 V12.2 M67 -12.1 V12.1" stroke-width="1.1"/>
  <path d="M79.4 -10 L113.3 -7.2 L113.3 8.6 L79.4 10 Z"/>
  <g stroke-width="0.9">
    <ellipse cx="85.5" cy="-4.6" rx="2.6" ry="1.6" transform="rotate(-57 85.5 -4.6)"/>
    <ellipse cx="92" cy="-4.4" rx="2.6" ry="1.6" transform="rotate(-57 92 -4.4)"/>
    <ellipse cx="98.5" cy="-4.2" rx="2.6" ry="1.6" transform="rotate(-57 98.5 -4.2)"/>
    <ellipse cx="105" cy="-4" rx="2.6" ry="1.6" transform="rotate(-57 105 -4)"/>
    <ellipse cx="111" cy="-3.7" rx="2.6" ry="1.6" transform="rotate(-57 111 -3.7)"/>
    <ellipse cx="85.5" cy="4.8" rx="2.6" ry="1.6" transform="rotate(-57 85.5 4.8)"/>
    <ellipse cx="92" cy="4.7" rx="2.6" ry="1.6" transform="rotate(-57 92 4.7)"/>
    <ellipse cx="98.5" cy="4.6" rx="2.6" ry="1.6" transform="rotate(-57 98.5 4.6)"/>
    <ellipse cx="105" cy="4.5" rx="2.6" ry="1.6" transform="rotate(-57 105 4.5)"/>
    <ellipse cx="111" cy="4.4" rx="2.6" ry="1.6" transform="rotate(-57 111 4.4)"/>
  </g>
</g>

<!-- R RCA plug (grey) -->
<g stroke="#201d1e" stroke-width="1.6" stroke-linejoin="round">
  <path d="M993 399 L1016 396.4 L1016.6 403.4 L993.2 405.6 Z" fill="#fff"/>
  <circle cx="993.8" cy="402.3" r="3.2" fill="#201d1e" stroke="none"/>
  <path d="M1040.5 410 C1052 404 1072 404 1084 410.5 L1092 418.6 L1108.6 433.8 L1104.6 442.9 L1082.9 429.7 C1068 422 1055 417 1044.4 412.5 Z" fill="#a3a3a3"/>
  <path d="M1092 418.6 L1082.9 429.7 M1095.3 421.6 L1086.3 431.8 M1098.6 424.6 L1089.8 433.9 M1101.9 427.6 L1093.3 436 M1105.2 430.6 L1096.8 438.2" fill="none" stroke-width="1.7"/>
  <path d="M1014.6 386.2 L1032.8 383.7 L1035.3 411 L1016.6 413 Z" fill="#a3a3a3"/>
  <path d="M1014.9 389.6 L1033.1 387.2 M1016.3 408.8 L1035 406.8" fill="none" stroke-width="2"/>
  <path d="M1032.3 381.2 L1095.5 374.6 L1098.5 406.5 L1035.3 413 Z" fill="#a3a3a3"/>
  <path d="M1039.9 380.4 L1042.8 412.2 M1042.9 380.1 L1045.8 411.9 M1046 379.8 L1048.9 411.6 M1049 379.5 L1051.9 411.3 M1081.8 376 L1084.8 408 M1084.9 375.7 L1087.9 407.7 M1087.9 375.4 L1090.9 407.4 M1090.9 375.1 L1093.9 407.1" fill="none" stroke-width="1.1"/>
  <ellipse cx="1066.2" cy="393.8" rx="14.4" ry="7.1" transform="rotate(-6 1066.2 393.8)" fill="#a3a3a3" stroke-width="2.3"/>
  <path d="M1096.5 379.2 L1111.7 377.6 L1114 400.4 L1098.5 402.9 Z" fill="#a3a3a3"/>
</g>

<!-- L RCA plug (white) -->
<g stroke="#201d1e" stroke-width="1.6" stroke-linejoin="round" fill="#fff">
  <path d="M993 437.6 L1017.5 441.6 L1016.5 448.6 L992.4 444.4 Z"/>
  <circle cx="993.6" cy="440.9" r="3.2" fill="#201d1e" stroke="none"/>
  <path d="M1037 468.5 L1053.1 465 C1062 467 1072 475 1078.3 487.4 L1091.5 508.6 L1080.6 514.3 L1067.4 496.6 C1058 485 1048 476 1037 468.5 Z"/>
  <path d="M1078.3 487.4 L1067.4 496.6 M1081 491.6 L1070 500.2 M1083.6 495.8 L1072.6 503.7 M1086.2 500 L1075.3 507.2 M1088.8 504.2 L1077.9 510.7" fill="none" stroke-width="1.7"/>
  <path d="M1017.6 433.6 L1035.9 435.3 L1031.3 466.2 L1011.3 459.9 Z"/>
  <path d="M1017 438.6 L1035.3 441.1 M1013.1 455.6 L1032.4 459.2" fill="none" stroke-width="2"/>
  <path d="M1036.5 434.7 L1097.2 448.5 L1090.9 480 L1030.8 466.8 Z"/>
  <path d="M1039.6 435.4 L1033.9 467.5 M1042.9 436.1 L1037.2 468.2 M1046.2 436.9 L1040.5 469 M1049.5 437.6 L1043.8 469.7 M1079.4 444.4 L1073.5 476.2 M1082.8 445.2 L1076.9 477 M1086.2 446 L1080.3 477.7 M1089.6 446.7 L1083.7 478.5" fill="none" stroke-width="1.1"/>
  <ellipse cx="1064" cy="457.6" rx="13.8" ry="7.2" transform="rotate(12.8 1064 457.6)" stroke-width="2.3"/>
  <path d="M1097.8 453 L1112.6 457.6 L1107.5 479.4 L1092.6 476 Z"/>
</g>
</svg>
</body></html>
